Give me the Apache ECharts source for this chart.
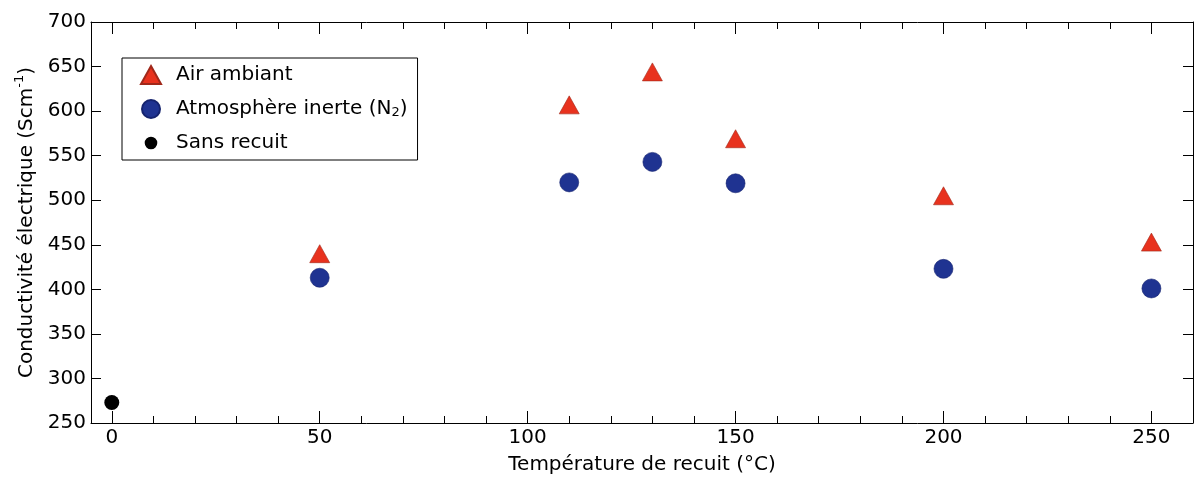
<!DOCTYPE html>
<html>
<head>
<meta charset="utf-8">
<script src="https://cdn.jsdelivr.net/npm/echarts@6/dist/echarts.min.js"></script>
<style>
html,body{margin:0;padding:0;background:#fff;}
#chart{width:1194px;height:477px;}
</style>
</head>
<body>
<div id="chart"></div>
<script>
// ---- data ----
const airTemps = [50, 110, 130, 150, 200, 250];
const airValues = [440, 607, 644, 569, 505, 453];
const n2Temps = [50, 110, 130, 150, 200, 250];
const n2Values = [413, 520, 543, 519, 423, 401];
const rawTemps = [0];
const rawValues = [273];
const xMajorTicks = [0, 50, 100, 150, 200, 250];
const xMinorTicks = [10, 20, 30, 40, 60, 70, 80, 90, 110, 120, 130, 140, 160, 170, 180, 190, 210, 220, 230, 240];
const seriesNames = ['Air ambiant', 'Atmosphère inerte (N2)', 'Sans recuit'];

const FONT = 'DejaVu Sans';
const pairs = (xs, ys) => xs.map((x, i) => [x, ys[i]]);

const chart = echarts.init(document.getElementById('chart'), null, {renderer: 'canvas'});
const lineStyle = {color: '#000', width: 1};
const xBase = {type: 'value', min: -5, max: 260, splitLine: {show: false}};

const option = {
  backgroundColor: '#fff',
  animation: false,
  grid: {left: 91, right: 1, top: 22, bottom: 54, containLabel: false, outerBoundsMode: 'none'},
  legend: {
    orient: 'vertical',
    left: 122, top: 58,
    padding: [7, 10, 7, 18],
    itemGap: 14,
    itemWidth: 20, itemHeight: 18,
    borderColor: '#000', borderWidth: 1,
    textStyle: {
      fontFamily: FONT, fontSize: 20, color: '#000', lineHeight: 20, padding: [0, 0, 0, 10],
      rich: {
        sub: {fontFamily: FONT, fontSize: 13, color: '#000', verticalAlign: 'bottom', padding: [10, 0, 0, 0]}
      }
    },
    formatter: function (name) {
      if (name === seriesNames[1]) return 'Atmosphère inerte (N{sub|2})';
      return name;
    },
    data: [
      {name: seriesNames[0], icon: 'triangle'},
      {name: seriesNames[1], icon: 'circle'},
      {name: seriesNames[2], icon: 'path://M0,0M20,20M10,3A7,7,0,1,1,9.99,3Z'}
    ]
  },
  xAxis: [
    Object.assign({}, xBase, {
      position: 'bottom',
      axisLine: {show: true, onZero: false, lineStyle: lineStyle},
      axisTick: {show: true, inside: true, length: 12, customValues: xMajorTicks, lineStyle: lineStyle},
      axisLabel: {customValues: xMajorTicks, fontFamily: FONT, fontSize: 20, color: '#000', margin: 5},
      name: 'Température de recuit (°C)',
      nameLocation: 'middle', nameGap: 32,
      nameTextStyle: {fontFamily: FONT, fontSize: 20, color: '#000'}
    }),
    Object.assign({}, xBase, {
      position: 'bottom',
      axisLine: {show: false, onZero: false},
      axisTick: {show: true, inside: true, length: 7, customValues: xMinorTicks, lineStyle: lineStyle},
      axisLabel: {show: false}
    }),
    Object.assign({}, xBase, {
      position: 'top',
      axisLine: {show: true, onZero: false, lineStyle: lineStyle},
      axisTick: {show: true, inside: true, length: 12, customValues: xMajorTicks, lineStyle: lineStyle},
      axisLabel: {show: false}
    }),
    Object.assign({}, xBase, {
      position: 'top',
      axisLine: {show: false, onZero: false},
      axisTick: {show: true, inside: true, length: 7, customValues: xMinorTicks, lineStyle: lineStyle},
      axisLabel: {show: false}
    })
  ],
  yAxis: [
    {
      type: 'value', min: 250, max: 700, interval: 50, position: 'left',
      splitLine: {show: false},
      axisLine: {show: true, onZero: false, lineStyle: lineStyle},
      axisTick: {show: true, inside: true, length: 10, lineStyle: lineStyle},
      axisLabel: {fontFamily: FONT, fontSize: 20, color: '#000', margin: 5},
      name: '{a|Conductivité électrique (Scm}{sup|-1}{a|)}',
      nameLocation: 'middle', nameGap: 52,
      nameTextStyle: {
        fontFamily: FONT, fontSize: 20, color: '#000',
        rich: {
          a: {fontFamily: FONT, fontSize: 20, color: '#000', lineHeight: 24, verticalAlign: 'bottom'},
          sup: {fontFamily: FONT, fontSize: 13, color: '#000', lineHeight: 24, verticalAlign: 'top'}
        }
      }
    },
    {
      type: 'value', min: 250, max: 700, interval: 50, position: 'right',
      splitLine: {show: false},
      axisLine: {show: true, onZero: false, lineStyle: lineStyle},
      axisTick: {show: true, inside: true, length: 10, lineStyle: lineStyle},
      axisLabel: {show: false}
    }
  ],
  series: [
    {
      name: seriesNames[0], type: 'scatter', xAxisIndex: 0, yAxisIndex: 0,
      symbol: 'triangle', symbolSize: [20, 18],
      itemStyle: {color: '#e8321e', borderColor: '#a0281a', borderWidth: 0.6, opacity: 1},
      data: pairs(airTemps, airValues)
    },
    {
      name: seriesNames[1], type: 'scatter', xAxisIndex: 0, yAxisIndex: 0,
      symbol: 'circle', symbolSize: 19,
      itemStyle: {color: '#1f3391', borderColor: '#15236e', borderWidth: 0.6, opacity: 1},
      data: pairs(n2Temps, n2Values)
    },
    {
      name: seriesNames[2], type: 'scatter', xAxisIndex: 0, yAxisIndex: 0,
      symbol: 'circle', symbolSize: 15,
      itemStyle: {color: '#000', opacity: 1},
      data: pairs(rawTemps, rawValues)
    }
  ]
};
chart.setOption(option);
</script>
</body>
</html>
